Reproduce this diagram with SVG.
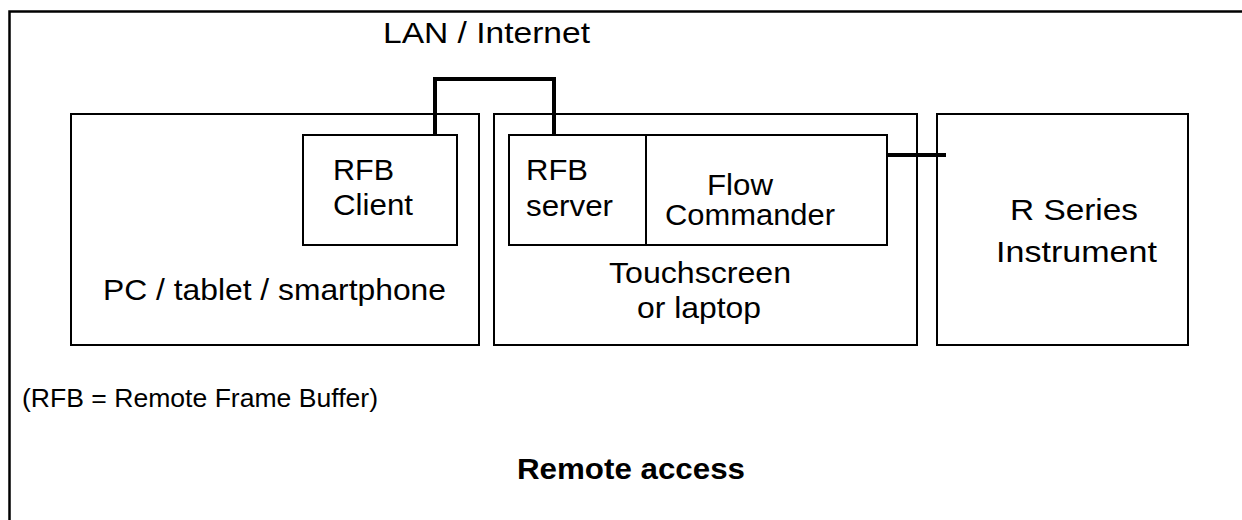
<svg xmlns="http://www.w3.org/2000/svg" width="1242" height="520" viewBox="0 0 1242 520">
<style>
.box{fill:none;stroke:#000;stroke-width:2}
.wire{fill:none;stroke:#000;stroke-width:4}
text{font-family:"Liberation Sans",Arial,sans-serif;fill:#000;font-size:30px}
</style>
<rect width="1242" height="520" fill="#fff"/>
<rect id="frame" x="9.5" y="11.5" width="1250" height="530" fill="none" stroke="#000" stroke-width="2.5"/>
<g id="pc">
<rect class="box" x="71" y="114" width="408" height="231"/>
<text x="103" y="300" textLength="343" lengthAdjust="spacingAndGlyphs">PC / tablet / smartphone</text>
</g>
<g id="rfb-client">
<rect class="box" x="303" y="135" width="154" height="110"/>
<text x="333" y="180" textLength="61" lengthAdjust="spacingAndGlyphs">RFB</text>
<text x="333" y="215" textLength="80" lengthAdjust="spacingAndGlyphs">Client</text>
</g>
<g id="touch">
<rect class="box" x="494" y="114" width="423" height="231"/>
<text x="609" y="283" textLength="182" lengthAdjust="spacingAndGlyphs">Touchscreen</text>
<text x="637" y="318" textLength="124" lengthAdjust="spacingAndGlyphs">or laptop</text>
</g>
<g id="rfb-server">
<rect class="box" x="509" y="135" width="137" height="110"/>
<text x="526" y="180" textLength="62" lengthAdjust="spacingAndGlyphs">RFB</text>
<text x="526" y="216" textLength="87" lengthAdjust="spacingAndGlyphs">server</text>
</g>
<g id="flow">
<rect class="box" x="646" y="135" width="241" height="110"/>
<text x="707" y="195" textLength="66" lengthAdjust="spacingAndGlyphs">Flow</text>
<text x="665" y="225" textLength="170" lengthAdjust="spacingAndGlyphs">Commander</text>
</g>
<g id="instrument">
<rect class="box" x="937" y="114" width="251" height="231"/>
<text x="1010" y="220" textLength="128" lengthAdjust="spacingAndGlyphs">R Series</text>
<text x="996" y="262" textLength="161" lengthAdjust="spacingAndGlyphs">Instrument</text>
</g>
<g id="connectors">
<polyline class="wire" points="435,135 435,79 554,79 554,135"/>
<line class="wire" x1="887" y1="155" x2="946" y2="155"/>
</g>
<g id="labels">
<text x="383" y="43" textLength="207" lengthAdjust="spacingAndGlyphs">LAN / Internet</text>
<text x="22" y="407" textLength="356" lengthAdjust="spacingAndGlyphs" style="font-size:25px">(RFB = Remote Frame Buffer)</text>
<text x="517" y="479" font-weight="bold" textLength="228" lengthAdjust="spacingAndGlyphs" style="font-size:29px">Remote access</text>
</g>
</svg>
